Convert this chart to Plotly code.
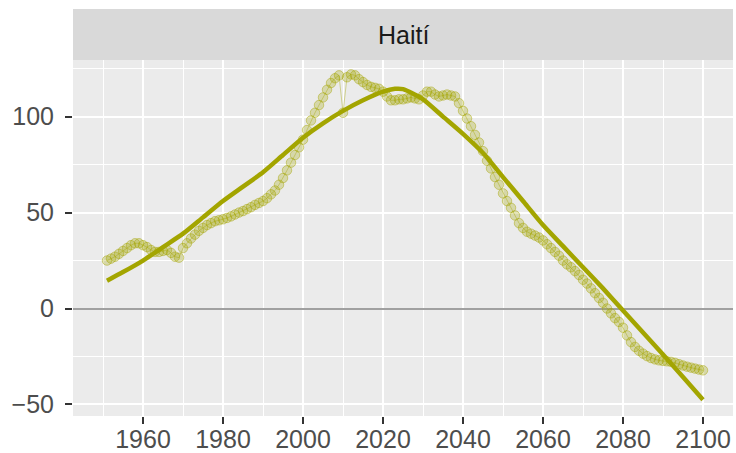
import plotly.graph_objects as go

# ---- data ----
years = list(range(1951, 2101))
values = [
    25, 26, 27, 28.5, 30, 31.5, 33, 34, 34, 33,            # 1951-1960
    32, 30.5, 29.5, 29.5, 30, 30.5, 29, 27, 26.5, 31.5,     # 1961-1970
    34, 36.5, 38.5, 40.5, 42, 43.5, 44.5, 45.5, 46, 46.5,   # 1971-1980
    47.2, 48, 49, 50, 50.8, 51.8, 52.8, 54, 55, 56,         # 1981-1990
    57.5, 59.5, 61.5, 64.5, 68, 72, 76, 80, 84, 88,         # 1991-2000
    93, 98, 102, 106, 110, 114, 117.5, 120, 121.5, 102,     # 2001-2010
    120.5, 122, 121.5, 119.5, 118, 116.5, 115.5, 115, 114.5, 113,   # 2011-2020
    110.5, 108.5, 108.5, 109, 109, 109.5, 110, 109.5, 109, 111,     # 2021-2030
    113, 113, 111.5, 110.5, 111, 111.5, 111, 110.5, 107, 103,       # 2031-2040
    99, 95, 90.5, 86.5, 82, 77, 73, 68.5, 64.5, 60,                 # 2041-2050
    56, 52.5, 48.5, 44.5, 42, 40, 39, 38, 37, 35.5,                 # 2051-2060
    33.5, 31.5, 29.5, 27.5, 25, 23, 21.5, 19.5, 17.5, 15,           # 2061-2070
    13, 10.5, 8, 5.5, 3, 0, -2.5, -5, -7, -10,                      # 2071-2080
    -14, -17.5, -20, -22, -23.5, -24.8, -25.8, -26.5, -27, -27.3,   # 2081-2090
    -27.5, -27.8, -28.3, -29, -29.7, -30.3, -30.8, -31.3, -31.8, -32.2,  # 2091-2100
]

smooth_years = [1951, 1955, 1960, 1965, 1970, 1975, 1980, 1985, 1990, 1995,
                2000, 2005, 2010, 2015, 2020, 2023, 2025, 2030, 2035, 2040,
                2045, 2050, 2055, 2060, 2065, 2070, 2075, 2080, 2085, 2090,
                2095, 2100]
smooth_values = [14.5, 19, 25, 32, 39, 47.5, 56, 63.5, 71, 80,
                 89, 96.5, 103, 108.5, 113, 114.5, 114.3, 109, 100, 91,
                 81, 68.5, 56, 43.5, 32.5, 21.5, 10.5, -1, -12.5, -24,
                 -35.7, -47.5]

x_ticks = [1960, 1980, 2000, 2020, 2040, 2060, 2080, 2100]
y_ticks = [-50, 0, 50, 100]
panel_title = "Haití"

# ---- figure ----
OLIVE = "163,165,0"
W, H = 736, 453
ML, MR, MT, MB = 73, 3, 9, 37
strip_h = 51
plot_h = H - MT - MB
dom_top = (plot_h - strip_h) / plot_h
FS = 25

fig = go.Figure()
fig.add_trace(go.Scatter(
    x=years, y=values, mode="lines",
    line=dict(color=f"rgba({OLIVE},0.4)", width=1),
    hoverinfo="skip", showlegend=False))
fig.add_trace(go.Scatter(
    x=years, y=values, mode="markers",
    marker=dict(size=9.5, color=f"rgba({OLIVE},0.28)",
                line=dict(color=f"rgba({OLIVE},0.45)", width=1)),
    showlegend=False))
fig.add_trace(go.Scatter(
    x=smooth_years, y=smooth_values, mode="lines",
    line=dict(color=f"rgb({OLIVE})", width=4.5, shape="spline", smoothing=0.6),
    showlegend=False))

font_family = "Liberation Sans, Arial, sans-serif"
fig.update_layout(
    width=W, height=H,
    margin=dict(l=ML, r=MR, t=MT, b=MB, pad=0, autoexpand=False),
    paper_bgcolor="white", plot_bgcolor="#EBEBEB",
    font=dict(family=font_family, size=FS, color="#4D4D4D"),
    xaxis=dict(range=[1942.5, 2107.5], tickvals=x_ticks, automargin=False,
               showgrid=True, gridcolor="white", gridwidth=2,
               minor=dict(tickvals=[1950, 1970, 1990, 2010, 2030, 2050, 2070, 2090],
                          showgrid=True, gridcolor="white", gridwidth=1, ticks=""),
               ticks="outside", ticklen=7, tickwidth=2, tickcolor="#333333",
               ticklabelstandoff=-6,
               zeroline=False, showline=False,
               tickfont=dict(size=FS, color="#4D4D4D")),
    yaxis=dict(range=[-56, 129.5], tickvals=y_ticks, domain=[0, dom_top],
               automargin=False,
               showgrid=True, gridcolor="white", gridwidth=2,
               minor=dict(tickvals=[-25, 25, 75, 125],
                          showgrid=True, gridcolor="white", gridwidth=1, ticks=""),
               ticks="outside", ticklen=7, tickwidth=2, tickcolor="#333333",
               ticklabelstandoff=6,
               zeroline=True, zerolinecolor="#A0A0A0", zerolinewidth=2,
               showline=False,
               tickfont=dict(size=FS, color="#4D4D4D")),
    shapes=[dict(type="rect", xref="paper", yref="paper",
                 x0=0, x1=1, y0=dom_top, y1=1,
                 fillcolor="#D9D9D9", line=dict(width=0), layer="below")],
    annotations=[dict(text=panel_title, xref="paper", yref="paper",
                      x=0.5, y=(dom_top + 1) / 2, showarrow=False,
                      xanchor="center", yanchor="middle",
                      font=dict(family=font_family, size=FS, color="#1A1A1A"))],
)

fig.write_html("out.html", config={"displayModeBar": False},
               post_script="document.body.style.margin='0';document.body.style.padding='0';")
